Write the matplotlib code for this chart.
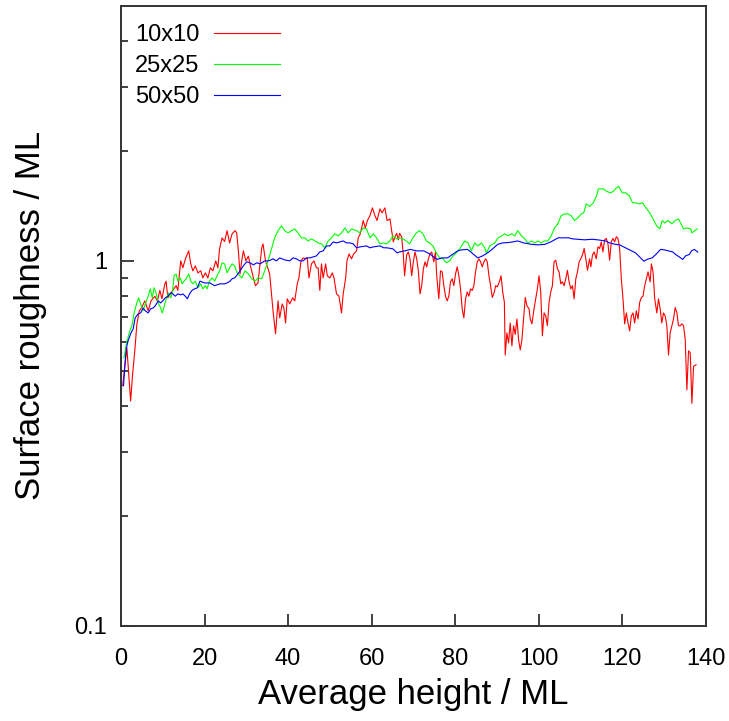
import matplotlib
matplotlib.use("Agg")
import matplotlib.pyplot as plt
from matplotlib.ticker import FixedLocator, FuncFormatter, NullFormatter

plt.rcParams["font.family"] = ["Liberation Sans", "DejaVu Sans"]

# 10x10 lattice
red_x = [0.4, 1.4, 2.3, 2.8, 3.3, 3.8, 4.4, 4.9, 5.7, 6.5,
         7.2, 8.1, 8.7, 9.3, 9.8, 10.5, 10.8, 11.2, 11.8, 12.4,
         13.2, 13.6, 14.3, 14.8, 15.5, 16.2, 16.7, 17.2, 17.8, 18.4,
         19.1, 19.6, 20.2, 20.8, 21.4, 22.0, 22.7, 23.2, 23.6, 24.2,
         24.8, 25.4, 26.0, 26.6, 27.3, 27.7, 28.1, 28.5, 28.9, 29.3,
         29.9, 30.5, 31.0, 31.7, 32.2, 32.8, 33.3, 33.7, 34.0, 34.6,
         35.6, 36.4, 37.0, 37.6, 38.0, 38.6, 39.0, 39.4, 39.8, 40.4,
         41.1, 41.6, 42.2, 42.6, 43.1, 43.6, 44.2, 44.6, 45.0, 45.6,
         46.2, 46.8, 47.2, 47.6, 48.0, 48.4, 49.0, 49.4, 50.0, 50.6,
         51.0, 51.6, 52.2, 52.8, 53.2, 53.8, 54.1, 54.6, 55.2, 55.7,
         56.4, 56.8, 57.3, 58.0, 58.5, 59.0, 59.6, 60.2, 60.8, 61.3,
         62.0, 62.5, 63.2, 63.7, 64.4, 64.8, 65.2, 65.6, 66.0, 66.4,
         66.7, 67.2, 67.6, 67.9, 68.4, 68.8, 69.2, 69.6, 70.0, 70.4,
         70.8, 71.2, 71.6, 72.0, 72.4, 72.8, 73.2, 73.6, 74.0, 74.4,
         74.9, 75.3, 75.6, 76.1, 76.5, 76.9, 77.3, 77.7, 78.1, 78.5,
         78.9, 79.3, 79.7, 80.1, 80.5, 80.9, 81.3, 81.7, 82.1, 82.5,
         82.9, 83.3, 83.7, 84.1, 84.5, 84.9, 85.3, 85.7, 86.1, 86.5,
         86.9, 87.3, 87.7, 88.1, 88.5, 88.9, 89.4, 89.7, 90.1, 90.6,
         91.0, 91.4, 91.8, 92.0, 92.4, 92.8, 93.2, 93.6, 94.0, 94.4,
         94.8, 95.2, 95.6, 96.0, 96.4, 96.8, 97.2, 97.7, 98.0, 98.4,
         98.9, 99.3, 99.7, 100.1, 100.5, 100.9, 101.3, 101.7, 102.1, 102.5,
         102.9, 103.3, 103.7, 104.1, 104.5, 104.9, 105.3, 105.7, 106.1, 106.5,
         106.9, 107.3, 107.7, 108.1, 108.5, 108.9, 109.3, 109.7, 110.1, 110.5,
         110.9, 111.3, 111.7, 112.2, 112.5, 112.9, 113.3, 113.8, 114.2, 114.6,
         115.0, 115.4, 115.8, 116.2, 116.6, 117.0, 117.4, 117.8, 118.2, 118.6,
         119.0, 119.4, 119.8, 120.2, 120.6, 121.0, 121.4, 121.8, 122.2, 122.6,
         123.0, 123.4, 123.8, 124.2, 124.6, 125.0, 125.4, 125.8, 126.2, 126.7,
         127.0, 127.4, 127.8, 128.3, 128.7, 129.1, 129.5, 129.9, 130.3, 130.7,
         131.1, 131.5, 131.9, 132.3, 132.7, 133.1, 133.5, 133.9, 134.3, 134.7,
         135.1, 135.5, 135.9, 136.3, 136.7, 137.1, 137.7]
red_y = [0.455, 0.578, 0.413, 0.493, 0.567, 0.672, 0.73, 0.743, 0.777, 0.73,
         0.777, 0.80, 0.777, 0.83, 0.787, 0.865, 0.88, 0.792, 0.812, 0.83,
         0.855, 0.83, 1.0, 0.957, 1.019, 1.065, 0.981, 0.939, 0.969, 0.927,
         0.939, 0.898, 0.927, 0.898, 0.957, 0.939, 1.0, 0.957, 1.079, 1.156,
         1.13, 1.21, 1.12, 1.186, 1.21, 1.193, 1.065, 0.921, 1.0, 1.065,
         1.0, 1.03, 0.969, 0.898, 0.855, 0.87, 0.981, 1.086, 1.113, 1.0,
         0.921, 0.73, 0.631, 0.777, 0.698, 0.762, 0.743, 0.676, 0.787, 0.762,
         0.792, 0.777, 0.865, 0.898, 1.0, 1.019, 1.013, 1.019, 0.898, 0.981,
         1.0, 0.957, 0.957, 0.83, 0.981, 0.898, 0.981, 0.91, 0.898, 0.927,
         0.898, 0.812, 0.80, 0.72, 0.812, 0.898, 1.0, 1.045, 1.013, 1.045,
         1.065, 1.156, 1.186, 1.29, 1.231, 1.29, 1.33, 1.397, 1.33, 1.29,
         1.388, 1.354, 1.397, 1.29, 1.303, 1.21, 1.127, 1.164, 1.19, 1.142,
         1.19, 1.164, 1.038, 0.91, 1.038, 1.058, 1.013, 0.91, 0.994, 1.058,
         1.013, 0.939, 0.812, 0.855, 0.951, 0.994, 0.963, 1.013, 1.045, 1.058,
         0.994, 1.058, 0.91, 0.787, 0.939, 0.933, 0.855, 0.80, 0.777, 0.80,
         0.876, 0.893, 0.855, 0.921, 0.963, 0.91, 0.838, 0.738, 0.698, 0.787,
         0.822, 0.80, 0.838, 0.83, 0.855, 0.933, 0.994, 1.013, 0.994, 0.963,
         0.994, 1.013, 0.994, 0.91, 0.855, 0.794, 0.822, 0.855, 0.849, 0.876,
         0.91, 0.822, 0.77, 0.552, 0.635, 0.596, 0.676, 0.585, 0.664, 0.629,
         0.693, 0.608, 0.570, 0.608, 0.693, 0.794, 0.753, 0.739, 0.693, 0.672,
         0.739, 0.787, 0.838, 0.91, 0.822, 0.623, 0.72, 0.707, 0.664, 0.77,
         0.822, 0.855, 0.994, 1.004, 0.951, 0.933, 0.865, 0.876, 0.855, 0.893,
         0.942, 0.876, 0.838, 0.855, 0.787, 0.893, 0.933, 0.994, 1.013, 1.038,
         1.081, 1.013, 0.942, 1.013, 0.963, 1.038, 1.058, 1.013, 1.092, 1.081,
         1.127, 1.058, 1.142, 1.152, 1.116, 1.004, 1.127, 1.152, 1.127, 1.164,
         1.152, 1.081, 0.893, 0.787, 0.672, 0.72, 0.676, 0.643, 0.707, 0.72,
         0.676, 0.73, 0.693, 0.77, 0.794, 0.80, 0.855, 0.893, 0.933, 0.876,
         0.981, 0.933, 0.787, 0.72, 0.787, 0.739, 0.676, 0.72, 0.707, 0.664,
         0.552, 0.635, 0.664, 0.693, 0.745, 0.722, 0.664, 0.664, 0.672, 0.664,
         0.61, 0.443, 0.567, 0.56, 0.407, 0.514, 0.519]

# 25x25 lattice
green_x = [0.7, 1.3, 2.1, 2.6, 3.1, 3.7, 4.2, 4.7, 5.3, 5.8,
           6.5, 7.0, 7.5, 7.9, 8.4, 9.0, 9.5, 9.9, 10.5, 10.9,
           11.4, 11.9, 12.3, 12.7, 13.2, 13.6, 14.2, 14.6, 15.1, 15.6,
           16.2, 16.7, 17.2, 17.8, 18.4, 19.1, 19.6, 20.2, 20.6, 21.2,
           21.8, 22.4, 23.0, 23.6, 24.2, 24.8, 25.4, 26.0, 26.6, 27.2,
           27.8, 28.9, 29.7, 30.5, 31.3, 32.1, 32.8, 33.7, 34.4, 35.2,
           36.1, 36.8, 37.6, 38.4, 39.2, 40.0, 40.8, 41.6, 42.4, 43.2,
           44.0, 44.8, 45.6, 46.4, 47.2, 48.0, 48.8, 49.6, 50.4, 51.2,
           52.0, 52.8, 53.6, 54.4, 55.2, 56.4, 57.2, 58.0, 58.8, 59.6,
           60.4, 61.2, 62.0, 62.8, 63.6, 64.4, 65.1, 66.0, 66.7, 67.5,
           68.3, 69.1, 69.9, 70.7, 71.5, 72.3, 73.1, 73.9, 74.7, 75.5,
           76.3, 77.1, 77.9, 78.7, 79.5, 80.3, 81.1, 82.3, 83.1, 83.9,
           84.7, 85.5, 86.3, 87.1, 87.5, 88.3, 89.5, 90.3, 91.1, 91.9,
           92.7, 93.5, 94.3, 95.0, 95.9, 96.7, 97.4, 98.3, 99.0, 99.8,
           100.6, 101.4, 102.2, 103.0, 103.8, 104.6, 105.4, 106.2, 107.0, 107.8,
           108.6, 109.4, 110.2, 110.8, 111.4, 112.2, 113.1, 113.9, 114.3, 115.5,
           116.3, 117.2, 117.9, 118.6, 119.2, 120.0, 120.8, 121.7, 122.5, 123.3,
           124.1, 124.9, 125.7, 126.6, 127.4, 128.2, 129.0, 129.6, 130.2, 131.0,
           131.9, 132.7, 133.5, 134.3, 134.7, 135.5, 136.4, 136.7, 137.4, 138.0]
green_y = [0.542, 0.593, 0.643, 0.664, 0.716, 0.762, 0.792, 0.762, 0.73, 0.762,
           0.80, 0.838, 0.792, 0.844, 0.817, 0.762, 0.743, 0.72, 0.762, 0.792,
           0.817, 0.792, 0.817, 0.91, 0.921, 0.88, 0.898, 0.865, 0.88, 0.893,
           0.921, 0.88, 0.865, 0.88, 0.844, 0.865, 0.838, 0.855, 0.838, 0.88,
           0.898, 0.88, 0.91, 0.939, 0.988, 0.981, 0.927, 0.957, 0.981, 0.969,
           0.927, 0.898, 0.939, 0.921, 0.893, 0.88, 0.898, 0.893, 0.939, 1.0,
           1.086, 1.156, 1.21, 1.247, 1.21, 1.193, 1.21, 1.223, 1.193, 1.156,
           1.156, 1.134, 1.149, 1.134, 1.12, 1.113, 1.086, 1.134, 1.156, 1.186,
           1.171, 1.193, 1.231, 1.193, 1.223, 1.21, 1.193, 1.231, 1.223, 1.156,
           1.186, 1.156, 1.113, 1.12, 1.113, 1.134, 1.171, 1.149, 1.156, 1.149,
           1.134, 1.113, 1.156, 1.193, 1.21, 1.186, 1.134, 1.12, 1.099, 1.052,
           1.019, 1.013, 0.988, 1.0, 1.032, 1.052, 1.079, 1.134, 1.12, 1.065,
           1.12, 1.099, 1.12, 1.086, 1.05, 1.099, 1.12, 1.156, 1.171, 1.186,
           1.171, 1.186, 1.171, 1.21, 1.171, 1.149, 1.12, 1.134, 1.12, 1.134,
           1.12, 1.134, 1.134, 1.171, 1.231, 1.263, 1.33, 1.345, 1.345, 1.33,
           1.29, 1.312, 1.345, 1.354, 1.432, 1.41, 1.442, 1.51, 1.575, 1.575,
           1.55, 1.536, 1.55, 1.585, 1.60, 1.536, 1.536, 1.51, 1.442, 1.442,
           1.432, 1.442, 1.397, 1.354, 1.303, 1.25, 1.224, 1.29, 1.27, 1.29,
           1.263, 1.29, 1.303, 1.25, 1.224, 1.231, 1.224, 1.193, 1.21, 1.224]

# 50x50 lattice
blue_x = [0.6, 1.0, 1.3, 1.7, 2.3, 2.9, 3.4, 4.1, 4.7, 5.3,
          5.8, 6.5, 7.1, 7.7, 8.2, 8.9, 9.5, 10.0, 10.6, 11.2,
          11.9, 12.4, 13.0, 13.6, 14.3, 14.8, 15.4, 15.9, 16.4, 17.0,
          17.6, 18.3, 18.9, 20.0, 21.3, 22.4, 23.7, 24.8, 25.4, 26.1,
          26.6, 27.2, 27.8, 28.5, 29.3, 30.1, 30.9, 31.7, 32.5, 33.3,
          34.4, 35.4, 36.4, 37.2, 38.0, 39.2, 40.4, 41.2, 42.0, 42.8,
          43.6, 44.4, 45.2, 46.0, 46.8, 47.6, 48.4, 49.2, 50.0, 50.8,
          51.6, 52.4, 53.2, 54.0, 54.8, 55.6, 56.4, 57.2, 58.8, 59.6,
          60.4, 62.0, 62.9, 63.6, 65.1, 66.1, 66.7, 67.9, 69.3, 70.8,
          72.5, 73.9, 75.7, 76.8, 78.2, 79.2, 80.6, 81.6, 83.0, 84.0,
          85.4, 86.6, 87.8, 89.0, 90.2, 91.4, 92.6, 93.8, 95.0, 96.4,
          98.3, 99.8, 101.5, 102.9, 104.7, 105.7, 107.1, 108.1, 109.5, 111.0,
          112.8, 114.1, 116.0, 117.0, 118.4, 119.4, 120.8, 121.8, 123.2, 124.2,
          125.2, 126.1, 127.2, 128.2, 129.2, 130.1, 131.2, 132.1, 132.8, 133.7,
          134.5, 135.2, 136.1, 136.6, 137.3, 138.1]
blue_y = [0.455, 0.532, 0.578, 0.604, 0.631, 0.651, 0.698, 0.716, 0.72, 0.743,
          0.73, 0.72, 0.739, 0.743, 0.753, 0.777, 0.767, 0.777, 0.792, 0.80,
          0.817, 0.812, 0.80, 0.812, 0.807, 0.812, 0.80, 0.787, 0.812, 0.83,
          0.838, 0.844, 0.88, 0.87, 0.87, 0.855, 0.865, 0.865, 0.87, 0.88,
          0.893, 0.898, 0.915, 0.939, 0.969, 0.994, 0.988, 0.975, 0.988, 0.981,
          1.0, 1.0, 1.013, 1.0, 1.019, 1.006, 1.0, 1.019, 1.013, 1.0,
          1.0, 1.019, 1.019, 1.025, 1.032, 1.058, 1.065, 1.099, 1.099, 1.127,
          1.12, 1.127, 1.134, 1.12, 1.12, 1.113, 1.086, 1.092, 1.099, 1.086,
          1.092, 1.099, 1.086, 1.086, 1.079, 1.052, 1.058, 1.065, 1.075, 1.065,
          1.065, 1.045, 1.009, 1.019, 1.019, 1.038, 1.065, 1.072, 1.075, 1.052,
          1.019, 1.032, 1.052, 1.079, 1.11, 1.12, 1.122, 1.127, 1.134, 1.12,
          1.11, 1.106, 1.11, 1.127, 1.157, 1.156, 1.157, 1.149, 1.146, 1.142,
          1.146, 1.142, 1.134, 1.12, 1.11, 1.106, 1.086, 1.072, 1.052, 1.025,
          0.998, 1.011, 1.019, 1.045, 1.075, 1.072, 1.064, 1.058, 1.041, 1.025,
          1.009, 1.032, 1.041, 1.065, 1.075, 1.057]

labels = ["10x10", "25x25", "50x50"]
x_ticks = [0, 20, 40, 60, 80, 100, 120, 140]

fig = plt.figure(figsize=(7.29, 7.21), dpi=100)
ax = fig.add_axes([0.166, 0.132, 0.802, 0.860])

ax.plot(red_x, red_y, color="#ff0000", lw=0.8, label=labels[0])
ax.plot(green_x, green_y, color="#00ff00", lw=0.8, label=labels[1])
ax.plot(blue_x, blue_y, color="#0000ff", lw=0.8, label=labels[2])

ax.set_yscale("log")
ax.set_xlim(0, 140)
ax.set_ylim(0.1, 5)
ax.xaxis.set_major_locator(FixedLocator(x_ticks))
ax.yaxis.set_major_locator(FixedLocator([0.1, 1]))
ax.yaxis.set_minor_locator(FixedLocator([0.2, 0.3, 0.4, 0.5, 0.6, 0.7, 0.8, 0.9, 2, 3, 4]))
ax.yaxis.set_major_formatter(FuncFormatter(lambda v, _: f"{v:g}"))
ax.yaxis.set_minor_formatter(NullFormatter())

ax.tick_params(which="both", direction="in", top=False, right=False,
               width=1.3, color="#333333", labelsize=17)
ax.tick_params(axis="x", pad=16)
ax.tick_params(axis="y", pad=10)
ax.tick_params(which="major", length=9)
ax.tick_params(which="minor", length=5)
for sp in ax.spines.values():
    sp.set_linewidth(1.4)
    sp.set_color("#333333")

ax.set_xlabel("Average height / ML", fontsize=25, labelpad=6)
ax.set_ylabel("Surface roughness / ML", fontsize=25, labelpad=20)

ax.legend(loc="upper left", bbox_to_anchor=(0.0, 0.993), frameon=False,
          markerfirst=False, fontsize=17, handlelength=2.8, handletextpad=0.6,
          labelspacing=0.38, borderaxespad=0.2)

fig.savefig("out.png", dpi=100)
